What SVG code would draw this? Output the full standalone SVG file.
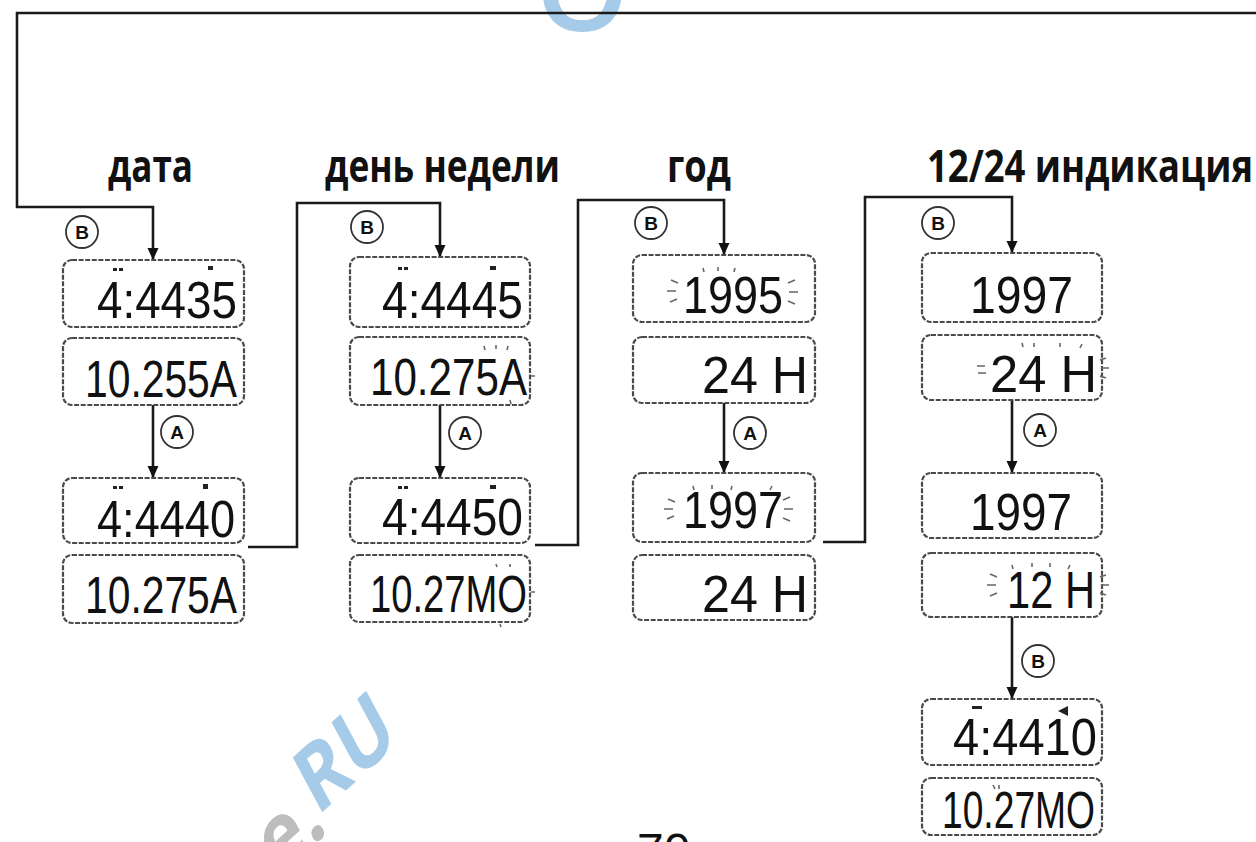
<svg xmlns="http://www.w3.org/2000/svg" width="1256" height="842" viewBox="0 0 1256 842">
<defs>
<marker id="ah" markerWidth="12" markerHeight="12" refX="12" refY="6" orient="auto" markerUnits="userSpaceOnUse"><path d="M0,0.5 L12,6 L0,11.5 z" fill="#111"/></marker>
</defs>
<style>
.ln{fill:none;stroke:#1a1a1a;stroke-width:2.6}
.box{fill:#fff;stroke:#4a4a4a;stroke-width:2.2;stroke-dasharray:5 1.6}
.ttl{font-family:'Open Sans','DejaVu Sans',sans-serif;font-weight:700;font-size:36px;fill:#111}
.lcd{font-family:'Liberation Sans',Arial,sans-serif;font-size:38px;fill:#111}
.btn circle{fill:#fff;stroke:#333;stroke-width:1.8}
.btn text{font-family:'Liberation Sans',Arial,sans-serif;font-weight:700;font-size:19px;text-anchor:middle;fill:#111}
.ray{stroke:#666;stroke-width:1.6;fill:none}
.ind{fill:#222}
.wm{font-family:'Open Sans','DejaVu Sans',sans-serif;font-weight:700;font-size:72px}
</style>

<g id="watermark">
<text x="535" y="31" style="font-family:'Open Sans',sans-serif;font-weight:600;font-size:120px" fill="#a6cbe8">O</text>
<g transform="translate(329,831) scale(1,1.3) rotate(-35)">
<text class="wm" x="0" y="0" text-anchor="end" fill="#bdbdbd">e.</text>
</g>
<g transform="translate(317,817) scale(1,1.3) rotate(-35)">
<text class="wm" x="0" y="0" fill="#a6cbe8">RU</text>
</g>
</g>

<g id="titles">
<text class="ttl" transform="translate(108,182) scale(1,1.25)" textLength="85" lengthAdjust="spacingAndGlyphs">дата</text>
<text class="ttl" transform="translate(325,182) scale(1,1.25)" textLength="235" lengthAdjust="spacingAndGlyphs">день недели</text>
<text class="ttl" transform="translate(667,182) scale(1,1.25)" textLength="64" lengthAdjust="spacingAndGlyphs">год</text>
<text class="ttl" transform="translate(927,182) scale(1,1.25)" textLength="326" lengthAdjust="spacingAndGlyphs">12/24 индикация</text>
</g>

<g id="connectors">
<path class="ln" d="M1256,13 H17 V207 H153 V260" marker-end="url(#ah)"/>
<path class="ln" d="M248,547 H297 V203 H440 V257" marker-end="url(#ah)"/>
<path class="ln" d="M535,545 H578 V200 H724 V255" marker-end="url(#ah)"/>
<path class="ln" d="M823,542 H865 V197 H1012 V253" marker-end="url(#ah)"/>
<path class="ln" d="M153,405 V478" marker-end="url(#ah)"/>
<path class="ln" d="M440,405 V478" marker-end="url(#ah)"/>
<path class="ln" d="M724,403 V473" marker-end="url(#ah)"/>
<path class="ln" d="M1012,400 V473" marker-end="url(#ah)"/>
<path class="ln" d="M1012,617 V699" marker-end="url(#ah)"/>
</g>

<g id="buttons" class="btn">
<g id="btn-b1"><circle cx="82" cy="232" r="16"/><text x="82" y="239">B</text></g>
<g id="btn-b2"><circle cx="367" cy="227" r="16"/><text x="367" y="234">B</text></g>
<g id="btn-b3"><circle cx="651" cy="223" r="16"/><text x="651" y="230">B</text></g>
<g id="btn-b4"><circle cx="938" cy="223" r="16"/><text x="938" y="230">B</text></g>
<g id="btn-a1"><circle cx="177" cy="432" r="16"/><text x="177" y="439">A</text></g>
<g id="btn-a2"><circle cx="465" cy="433" r="16"/><text x="465" y="440">A</text></g>
<g id="btn-a3"><circle cx="750" cy="433" r="16"/><text x="750" y="440">A</text></g>
<g id="btn-a4"><circle cx="1040" cy="430" r="16"/><text x="1040" y="437">A</text></g>
<g id="btn-b5"><circle cx="1038" cy="661" r="16"/><text x="1038" y="668">B</text></g>
</g>

<g id="col-date">
<g id="d1"><rect class="box" x="63" y="260" width="181" height="67" rx="9"/>
<rect class="ind" x="113" y="268" width="4" height="3"/><rect class="ind" x="119" y="268" width="4" height="3"/><rect class="ind" x="208" y="266" width="5" height="4"/>
<text class="lcd" transform="translate(97,318) scale(1,1.35)" textLength="140" lengthAdjust="spacingAndGlyphs">4:4435</text></g>
<g id="d2"><rect class="box" x="63" y="338" width="181" height="67" rx="9"/>
<text class="lcd" transform="translate(85,397) scale(1,1.35)" textLength="152" lengthAdjust="spacingAndGlyphs">10.255A</text></g>
<g id="d3"><rect class="box" x="63" y="478" width="181" height="65" rx="9"/>
<rect class="ind" x="113" y="486" width="4" height="3"/><rect class="ind" x="119" y="486" width="4" height="3"/><rect class="ind" x="203" y="484" width="5" height="5"/>
<text class="lcd" transform="translate(97,537) scale(1,1.35)" textLength="138" lengthAdjust="spacingAndGlyphs">4:4440</text></g>
<g id="d4"><rect class="box" x="63" y="555" width="181" height="68" rx="9"/>
<text class="lcd" transform="translate(85,613) scale(1,1.35)" textLength="152" lengthAdjust="spacingAndGlyphs">10.275A</text></g>
</g>

<g id="col-weekday">
<g id="w1"><rect class="box" x="350" y="257" width="180" height="70" rx="9"/>
<rect class="ind" x="398" y="267" width="4" height="3"/><rect class="ind" x="404" y="267" width="4" height="3"/><rect class="ind" x="490" y="266" width="6" height="4"/>
<text class="lcd" transform="translate(382,318) scale(1,1.35)" textLength="141" lengthAdjust="spacingAndGlyphs">4:4445</text></g>
<g id="w2"><rect class="box" x="350" y="337" width="180" height="68" rx="9"/>
<path class="ray" d="M484,346 l1,4 M496,345 l0,4 M508,346 l-1,4 M531,376 h4 M510,400 l1,4"/>
<text class="lcd" transform="translate(370,395) scale(1,1.35)" textLength="157" lengthAdjust="spacingAndGlyphs">10.275A</text></g>
<g id="w3"><rect class="box" x="350" y="478" width="180" height="65" rx="9"/>
<rect class="ind" x="398" y="486" width="4" height="3"/><rect class="ind" x="404" y="486" width="4" height="3"/><rect class="ind" x="490" y="485" width="6" height="4"/>
<text class="lcd" transform="translate(382,535) scale(1,1.35)" textLength="141" lengthAdjust="spacingAndGlyphs">4:4450</text></g>
<g id="w4"><rect class="box" x="350" y="555" width="180" height="67" rx="9"/>
<path class="ray" d="M496,564 l1,3 M510,564 l0,3 M531,592 h4 M500,624 l1,3"/>
<text class="lcd" transform="translate(370,612) scale(1,1.35)" textLength="157" lengthAdjust="spacingAndGlyphs">10.27MO</text></g>
</g>

<g id="col-year">
<g id="y1"><rect class="box" x="633" y="255" width="182" height="67" rx="9"/>
<path class="ray" d="M671,280 l7,3 M667,291 h9 M670,302 l7,-3 M703,268 l1,4 M718,267 l0,4 M735,268 l-1,4 M788,283 l7,-3 M789,292 h9 M788,301 l7,3"/>
<text class="lcd" transform="translate(683,313) scale(1,1.35)" textLength="100" lengthAdjust="spacingAndGlyphs">1995</text></g>
<g id="y2"><rect class="box" x="633" y="337" width="182" height="66" rx="9"/>
<text class="lcd" transform="translate(702,393) scale(1,1.35)" textLength="106" lengthAdjust="spacingAndGlyphs">24 H</text></g>
<g id="y3"><rect class="box" x="633" y="473" width="182" height="69" rx="9"/>
<path class="ray" d="M668,499 l7,3 M664,509 h9 M667,519 l7,-3 M693,486 l1,4 M712,485 l0,4 M732,486 l-1,4 M772,486 l-2,4 M783,500 l7,-3 M784,509 h9 M783,518 l7,3"/>
<text class="lcd" transform="translate(683,528) scale(1,1.35)" textLength="100" lengthAdjust="spacingAndGlyphs">1997</text></g>
<g id="y4"><rect class="box" x="633" y="555" width="182" height="65" rx="9"/>
<text class="lcd" transform="translate(702,612) scale(1,1.35)" textLength="106" lengthAdjust="spacingAndGlyphs">24 H</text></g>
</g>

<g id="col-1224">
<g id="h1"><rect class="box" x="922" y="253" width="180" height="69" rx="9"/>
<text class="lcd" transform="translate(970,313) scale(1,1.35)" textLength="103" lengthAdjust="spacingAndGlyphs">1997</text></g>
<g id="h2"><rect class="box" x="922" y="335" width="180" height="65" rx="9"/>
<path class="ray" d="M977,366 h8 M978,373 h8 M1022,343 l1,4 M1034,343 l0,4 M1060,343 l0,4 M1082,344 l-2,4 M1100,360 l6,-2 M1101,368 h8 M1100,376 l6,2"/>
<text class="lcd" transform="translate(990,392) scale(1,1.35)" textLength="107" lengthAdjust="spacingAndGlyphs">24 H</text></g>
<g id="h3"><rect class="box" x="922" y="473" width="180" height="65" rx="9"/>
<text class="lcd" transform="translate(970,530) scale(1,1.35)" textLength="102" lengthAdjust="spacingAndGlyphs">1997</text></g>
<g id="h4"><rect class="box" x="922" y="553" width="180" height="64" rx="9"/>
<path class="ray" d="M990,574 l7,3 M987,585 h9 M990,596 l7,-3 M1012,565 l1,4 M1032,563 l0,4 M1050,563 l0,4 M1070,565 l-2,4 M1100,577 l6,-2 M1101,585 h8 M1100,593 l6,2"/>
<text class="lcd" transform="translate(1007,608) scale(1,1.35)" textLength="88" lengthAdjust="spacingAndGlyphs">12 H</text></g>
<g id="h5"><rect class="box" x="922" y="699" width="180" height="66" rx="9"/>
<path class="ind" d="M972,706 h10 v3 h-10 z"/><path class="ind" d="M1058,711 l10,-5 v10 z"/>
<text class="lcd" transform="translate(953,755) scale(1,1.35)" textLength="144" lengthAdjust="spacingAndGlyphs">4:4410</text></g>
<g id="h6"><rect class="box" x="922" y="778" width="180" height="57" rx="9"/>
<path class="ray" d="M993,785 l2,4 M999,785 l0,4"/>
<text class="lcd" transform="translate(942,828) scale(1,1.35)" textLength="153" lengthAdjust="spacingAndGlyphs">10.27MO</text></g>
</g>

<text x="637" y="867" style="font-family:'Liberation Sans',Arial,sans-serif;font-size:48px" fill="#111">70</text>
</svg>
